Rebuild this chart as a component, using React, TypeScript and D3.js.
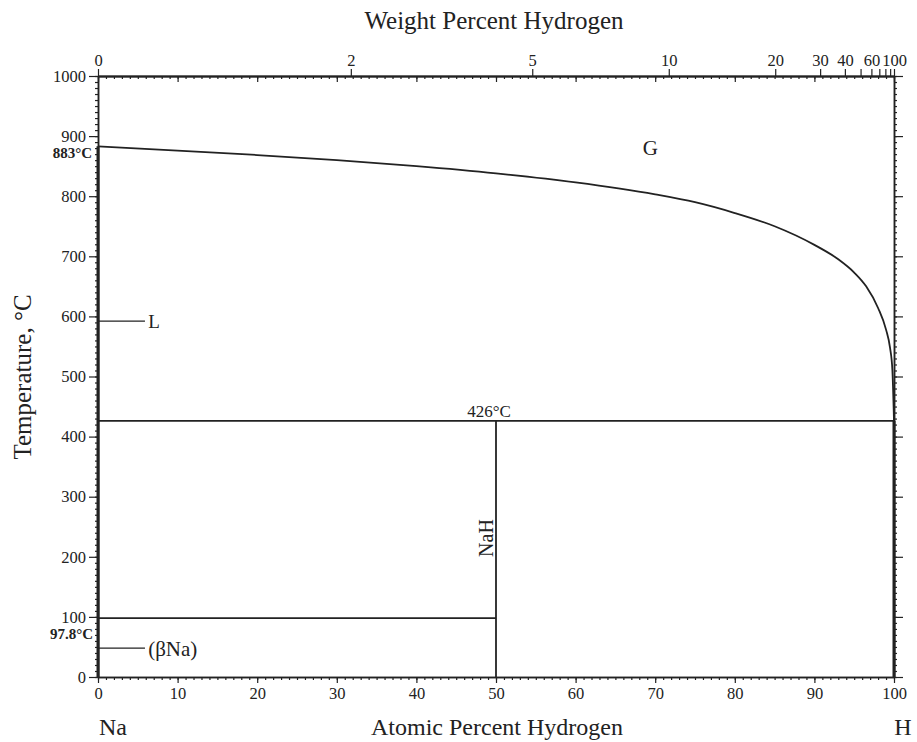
import React, { useEffect, useRef } from "react";
import * as d3 from "d3";

// ---- data ----
const tempTicks = [0, 100, 200, 300, 400, 500, 600, 700, 800, 900, 1000];
const atTicks = [0, 10, 20, 30, 40, 50, 60, 70, 80, 90, 100];
const wtLabeled = [0, 2, 5, 10, 20, 30, 40, 60, 100];
const wtUnlabeled = [50, 70, 80, 90];

// L + G boundary (atomic % H, temperature °C)
const curveAt = [0, 10, 20, 30, 40, 50, 60, 70, 75, 80, 85, 90, 93, 95, 96.5, 98, 99, 99.5, 99.8, 100];
const curveT = [883, 876, 868.5, 860, 850, 838, 823, 803, 790, 772, 750, 719, 695, 673, 650, 614, 578, 548, 510, 426];

// straight phase boundaries: [x1, t1, x2, t2]
const segX1 = [0, 50, 0];
const segT1 = [426, 0, 97.8];
const segX2 = [100, 50, 50];
const segT2 = [426, 426, 97.8];

// thick boundaries on pure-element sides
const thickX = [0, 100];
const thickTop = [883, 426];

// phase labels with leader lines
const leaderLabels = ["L", "(βNa)"];
const leaderT = [592, 48];
const leaderSize = [19, 21];

const W = 917;
const H = 742;
const FONT = "'Liberation Serif', 'Times New Roman', serif";

// weight % H -> atomic % H for Na-H
const M_H = 1.008;
const M_NA = 22.99;
function wtToAt(w: number) {
  if (w >= 100) return 100;
  const a = w / M_H;
  const b = (100 - w) / M_NA;
  return (a / (a + b)) * 100;
}

export default function App() {
  const ref = useRef<SVGSVGElement | null>(null);

  useEffect(() => {
    const svg = d3.select(ref.current);
    svg.selectAll("*").remove();

    const x = d3.scaleLinear().domain([0, 100]).range([98, 894]);
    const y = d3.scaleLinear().domain([0, 1000]).range([677, 76]);

    const styleAxis = (g: any) => {
      g.select(".domain").attr("stroke", "#222").attr("stroke-width", 1.5);
      g.selectAll(".tick line").attr("stroke", "#222").attr("stroke-width", 1.2);
      g.selectAll("text")
        .attr("font-family", FONT)
        .attr("font-size", 16.5)
        .attr("fill", "#222");
    };

    const minorAt = d3.range(0, 101, 1);
    const minorT = d3.range(0, 1001, 10);

    // bottom axis
    const gb = svg.append("g").attr("transform", "translate(0,677)");
    gb.append("g")
      .call(d3.axisBottom(x).tickValues(minorAt).tickSize(3).tickSizeOuter(0).tickFormat(() => ""))
      .call(styleAxis);
    gb.append("g")
      .call(d3.axisBottom(x).tickValues(atTicks).tickSize(6).tickSizeOuter(0).tickPadding(4).tickFormat(d3.format("d")))
      .call(styleAxis);

    // left axis
    const gl = svg.append("g").attr("transform", "translate(98,0)");
    gl.append("g")
      .call(d3.axisLeft(y).tickValues(minorT).tickSize(3).tickSizeOuter(0).tickFormat(() => ""))
      .call(styleAxis);
    gl.append("g")
      .call(d3.axisLeft(y).tickValues(tempTicks).tickSize(9).tickSizeOuter(0).tickPadding(3).tickFormat(d3.format("d")))
      .call(styleAxis);

    // right axis
    const gr = svg.append("g").attr("transform", "translate(894,0)");
    gr.append("g")
      .call(d3.axisRight(y).tickValues(minorT).tickSize(3).tickSizeOuter(0).tickFormat(() => ""))
      .call(styleAxis);
    gr.append("g")
      .call(d3.axisRight(y).tickValues(tempTicks).tickSize(9).tickSizeOuter(0).tickFormat(() => ""))
      .call(styleAxis);

    // top axis: inward atomic % ticks, outward weight % ticks
    const gt = svg.append("g").attr("transform", "translate(0,76)");
    gt.append("g")
      .call(d3.axisTop(x).tickValues(minorAt).tickSize(-3).tickSizeOuter(0).tickFormat(() => ""))
      .call(styleAxis);
    gt.append("g")
      .call(d3.axisTop(x).tickValues(atTicks).tickSize(-6).tickSizeOuter(0).tickFormat(() => ""))
      .call(styleAxis);
    const wtScale: any = (w: number) => x(wtToAt(w));
    wtScale.range = () => x.range();
    wtScale.domain = () => [0, 100];
    wtScale.copy = () => wtScale;
    gt.append("g")
      .call(d3.axisTop(wtScale).tickValues(wtLabeled).tickSize(7).tickSizeOuter(0).tickPadding(3).tickFormat(d3.format("d")))
      .call(styleAxis);
    gt.append("g")
      .call(d3.axisTop(wtScale).tickValues(wtUnlabeled).tickSize(7).tickSizeOuter(0).tickFormat(() => ""))
      .call(styleAxis);

    // thick boundaries on the pure element sides
    thickX.forEach((xv, i) => {
      svg.append("line")
        .attr("x1", x(xv)).attr("x2", x(xv))
        .attr("y1", y(0)).attr("y2", y(thickTop[i]))
        .attr("stroke", "#222").attr("stroke-width", 3);
    });

    // straight boundaries
    segX1.forEach((_, i) => {
      svg.append("line")
        .attr("x1", x(segX1[i])).attr("y1", y(segT1[i]))
        .attr("x2", x(segX2[i])).attr("y2", y(segT2[i]))
        .attr("stroke", "#222").attr("stroke-width", 1.8);
    });

    // L/G curve
    const pts = curveAt.map((a, i) => [a, curveT[i]] as [number, number]);
    const line = d3.line<[number, number]>()
      .x((d) => x(d[0]))
      .y((d) => y(d[1]))
      .curve(d3.curveMonotoneX);
    svg.append("path")
      .attr("d", line(pts) || "")
      .attr("fill", "none")
      .attr("stroke", "#222")
      .attr("stroke-width", 1.8);

    // leader lines and labels
    leaderLabels.forEach((lab, i) => {
      svg.append("line")
        .attr("x1", x(0)).attr("x2", x(5.9))
        .attr("y1", y(leaderT[i])).attr("y2", y(leaderT[i]))
        .attr("stroke", "#222").attr("stroke-width", 1.2);
      svg.append("text")
        .attr("x", x(6.3)).attr("y", y(leaderT[i]))
        .attr("dy", "0.35em")
        .attr("font-family", FONT).attr("font-size", leaderSize[i]).attr("fill", "#222")
        .text(lab);
    });

    const txt = (tx: number, ty: number, s: string, size: number, anchor = "middle", weight = "normal", rot = 0) => {
      const t = svg.append("text")
        .attr("x", tx).attr("y", ty)
        .attr("dy", "0.35em")
        .attr("text-anchor", anchor)
        .attr("font-family", FONT)
        .attr("font-size", size)
        .attr("font-weight", weight)
        .attr("fill", "#222")
        .text(s);
      if (rot) t.attr("transform", `rotate(${rot},${tx},${ty})`);
    };

    txt(x(69.4), y(880), "G", 21);
    txt(489, 411, "426°C", 17);
    txt(486, 538, "NaH", 20, "middle", "normal", -90);
    txt(92, 153, "883°C", 15, "end", "bold");
    txt(93, 634, "97.8°C", 15, "end", "bold");

    // axis titles
    txt(494, 20, "Weight Percent Hydrogen", 25);
    txt(497, 727, "Atomic Percent Hydrogen", 24);
    txt(113, 727, "Na", 24);
    txt(903, 727, "H", 24);
    txt(22, 377, "Temperature, °C", 25, "middle", "normal", -90);
  }, []);

  return (
    <svg
      ref={ref}
      width={W}
      height={H}
      style={{ position: "absolute", left: 0, top: 0, background: "#fff" }}
    />
  );
}
